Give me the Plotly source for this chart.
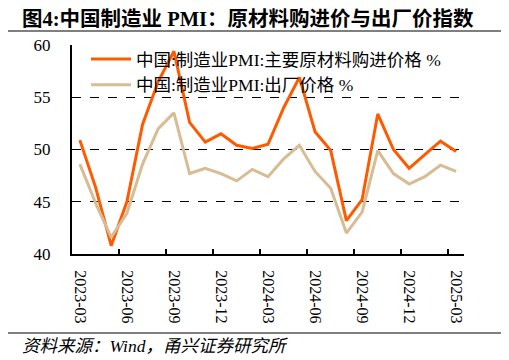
import plotly.graph_objects as go

months = ["2023-03","2023-04","2023-05","2023-06","2023-07","2023-08","2023-09","2023-10","2023-11","2023-12",
          "2024-01","2024-02","2024-03","2024-04","2024-05","2024-06","2024-07","2024-08","2024-09","2024-10",
          "2024-11","2024-12","2025-01","2025-02","2025-03"]
purchase_price = [50.9, 46.4, 40.8, 45.0, 52.4, 56.5, 59.4, 52.6, 50.7, 51.5,
                  50.4, 50.1, 50.5, 54.0, 56.9, 51.7, 49.9, 43.2, 45.2, 53.4,
                  50.0, 48.2, 49.5, 50.8, 49.8]
output_price = [48.6, 44.9, 41.6, 43.9, 48.6, 52.0, 53.5, 47.7, 48.2, 47.7,
                47.0, 48.1, 47.4, 49.1, 50.4, 47.9, 46.3, 42.0, 44.0, 49.9,
                47.7, 46.7, 47.4, 48.5, 47.9]
series_names = ["中国:制造业PMI:主要原材料购进价格 %", "中国:制造业PMI:出厂价格 %"]
y_ticks = [40, 45, 50, 55, 60]

FONT = "Liberation Serif, Times New Roman, Noto Sans CJK SC"

fig = go.Figure()
fig.add_trace(go.Scatter(x=months, y=purchase_price, mode="lines", name=series_names[0],
                         line=dict(color="#FF5A00", width=3)))
fig.add_trace(go.Scatter(x=months, y=output_price, mode="lines", name=series_names[1],
                         line=dict(color="#D7BC94", width=3)))

# page body has an 8px margin; work in reference coords and shift
OFF = 8
W, H = 509 - OFF, 360 - OFF
PL, PR, PT, PB = 72, 464, 45, 254  # plot area in reference coords
L, R, T, B = PL - OFF, W - (PR - OFF), PT - OFF, H - (PB - OFF)
pw, ph = PR - PL, PB - PT

def px(x):
    return (x - PL) / pw

def py(y):
    return (PB - y) / ph

fig.update_layout(
    width=W, height=H,
    margin=dict(l=L, r=R, t=T, b=B, autoexpand=False),
    paper_bgcolor="white", plot_bgcolor="white",
    font=dict(family=FONT, size=17, color="black"),
    showlegend=True,
    legend=dict(x=px(86), y=py(41), xanchor="left", yanchor="top",
                bgcolor="rgba(0,0,0,0)", font=dict(size=17.5, family=FONT),
                tracegroupgap=0, itemwidth=40),
    xaxis=dict(type="category", range=[-0.5, 24.5], tickmode="linear", tick0=0, dtick=3,
               tickson="boundaries", tickangle=90, ticks="inside", ticklen=5, tickwidth=2,
               tickcolor="black", showline=True, linewidth=2, linecolor="black",
               showgrid=False, ticklabelstandoff=11, tickfont=dict(size=16, family=FONT)),
    yaxis=dict(range=[40, 60], tickvals=y_ticks, showline=True, linewidth=2, linecolor="black",
               showgrid=True, gridcolor="black", gridwidth=1, griddash="dash", ticks="",
               zeroline=False, ticklabelstandoff=16, tickfont=dict(size=17, family=FONT)),
)

fig.add_annotation(text="<b>图4:中国制造业 PMI：原材料购进价与出厂价指数</b>",
                   xref="paper", yref="paper", x=px(20), y=py(19), xanchor="left", yanchor="middle",
                   showarrow=False, font=dict(size=20.5, family=FONT, color="black"))
fig.add_annotation(text="<i>资料来源：Wind，甬兴证券研究所</i>",
                   xref="paper", yref="paper", x=px(20), y=py(346), xanchor="left", yanchor="middle",
                   showarrow=False, font=dict(size=17.5, family=FONT, color="black"))
fig.add_shape(type="line", xref="paper", yref="paper", x0=px(8), x1=px(504), y0=py(31), y1=py(31),
              line=dict(color="#555555", width=1.5))
fig.add_shape(type="line", xref="paper", yref="paper", x0=px(8), x1=px(504), y0=py(333), y1=py(333),
              line=dict(color="#555555", width=1.5))

fig.write_html("out.html")
